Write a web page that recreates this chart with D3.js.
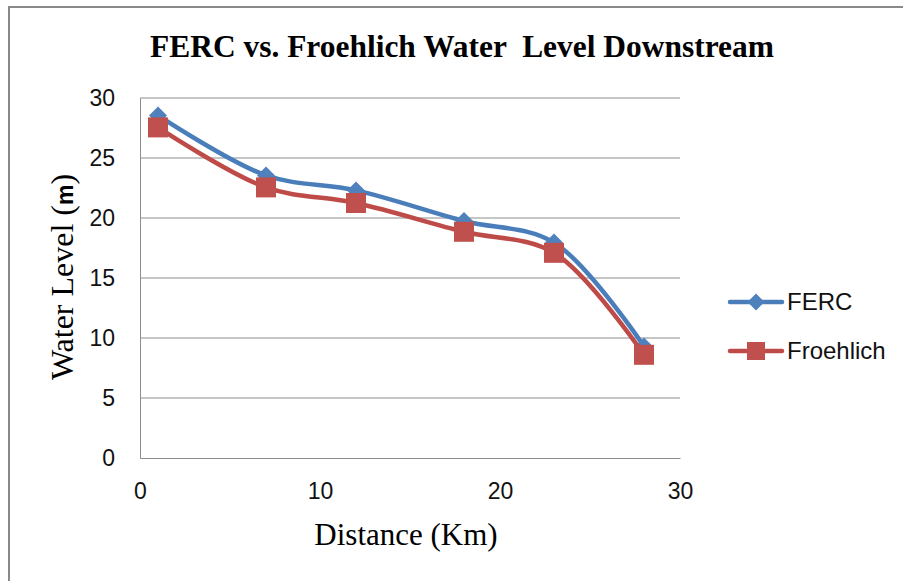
<!DOCTYPE html>
<html>
<head>
<meta charset="utf-8">
<script src="https://cdn.jsdelivr.net/npm/d3@7"></script>
<style>
  body { margin: 0; background: #fff; }
  svg { display: block; }
</style>
</head>
<body>
<div id="chart"></div>
<script>
// Data
const distance = [1, 7, 12, 18, 23, 28];
const ferc = [28.55, 23.55, 22.3, 19.75, 17.95, 9.3];
const froehlich = [27.55, 22.55, 21.25, 18.85, 17.1, 8.6];
const xTicks = [0, 10, 20, 30];
const yTicks = [0, 5, 10, 15, 20, 25, 30];
const seriesNames = ['FERC', 'Froehlich'];

const W = 903, H = 581;
const plot = { left: 140, right: 680, top: 98, bottom: 458 };

const svg = d3.select('#chart').append('svg')
    .attr('width', W).attr('height', H);

// Chart frame (extends past the right and bottom edges)
svg.append('rect')
    .attr('x', 9).attr('y', 7)
    .attr('width', 1000).attr('height', 1000)
    .attr('fill', '#fff')
    .attr('stroke', '#898989').attr('stroke-width', 2);

const x = d3.scaleLinear().domain([0, 30]).range([plot.left, plot.right]);
const y = d3.scaleLinear().domain([0, 30]).range([plot.bottom, plot.top]);

// Gridlines
svg.append('g')
    .selectAll('line')
    .data(yTicks.filter(d => d > 0))
    .join('line')
    .attr('x1', plot.left).attr('x2', plot.right)
    .attr('y1', d => y(d)).attr('y2', d => y(d))
    .attr('stroke', '#8c8c8c').attr('stroke-width', 1);

// Axes
const xAxis = svg.append('g')
    .attr('transform', 'translate(0,' + plot.bottom + ')')
    .call(d3.axisBottom(x).tickValues(xTicks).tickSize(0).tickPadding(25));
const yAxis = svg.append('g')
    .attr('transform', 'translate(' + plot.left + ',0)')
    .call(d3.axisLeft(y).tickValues(yTicks).tickSize(0).tickPadding(25));

[xAxis, yAxis].forEach(a => {
    a.select('.domain').attr('stroke', '#8c8c8c').attr('stroke-width', 1);
    a.selectAll('text')
        .attr('font-family', '"Liberation Sans", Arial, sans-serif')
        .attr('font-size', 23)
        .attr('fill', '#111');
});

// Title
svg.append('text')
    .attr('x', 462).attr('y', 57)
    .attr('text-anchor', 'middle')
    .attr('font-family', '"Liberation Serif", "Times New Roman", serif')
    .attr('font-weight', 'bold')
    .attr('font-size', 31)
    .attr('textLength', 624)
    .attr('lengthAdjust', 'spacingAndGlyphs')
    .style('white-space', 'pre')
    .text('FERC vs. Froehlich Water  Level Downstream');

// Axis titles
svg.append('text')
    .attr('x', 406).attr('y', 545)
    .attr('text-anchor', 'middle')
    .attr('font-family', '"Liberation Serif", "Times New Roman", serif')
    .attr('font-size', 31)
    .text('Distance (Km)');

const yTitle = svg.append('text')
    .attr('transform', 'translate(73,277) rotate(-90)')
    .attr('text-anchor', 'middle')
    .attr('font-family', '"Liberation Serif", "Times New Roman", serif')
    .attr('font-size', 32);
yTitle.append('tspan').text('Water Level (');
yTitle.append('tspan')
    .attr('font-family', '"Liberation Sans", Arial, sans-serif')
    .attr('font-weight', 'bold')
    .attr('font-size', 23)
    .text('m');
yTitle.append('tspan').text(')');

// Series
const series = [
    { name: seriesNames[0], values: ferc, line: '#4A7EBB', fill: '#4F81BD', marker: 'diamond' },
    { name: seriesNames[1], values: froehlich, line: '#BE4B48', fill: '#C0504D', marker: 'square' }
];

const line = d3.line()
    .x((d, i) => x(distance[i]))
    .y(d => y(d))
    .curve(d3.curveCatmullRom.alpha(0.5));

function markerPath(type) {
    if (type === 'diamond') return 'M0,-9L9,0L0,9L-9,0Z';
    return 'M-10,-10H10V10H-10Z';
}

series.forEach(s => {
    const g = svg.append('g');
    g.append('path')
        .attr('d', line(s.values))
        .attr('fill', 'none')
        .attr('stroke', s.line)
        .attr('stroke-width', 4.5)
        .attr('stroke-linejoin', 'round')
        .attr('stroke-linecap', 'round');
    g.selectAll('path.m')
        .data(s.values)
        .join('path')
        .attr('class', 'm')
        .attr('transform', (d, i) => 'translate(' + x(distance[i]) + ',' + y(d) + ')')
        .attr('d', markerPath(s.marker))
        .attr('fill', s.fill);
});

// Legend
const legend = svg.append('g');
series.forEach((s, i) => {
    const ly = 302 + i * 49;
    const lg = legend.append('g').attr('transform', 'translate(0,' + ly + ')');
    lg.append('line')
        .attr('x1', 730).attr('x2', 782)
        .attr('stroke', s.line).attr('stroke-width', 4.5)
        .attr('stroke-linecap', 'round');
    lg.append('path')
        .attr('transform', 'translate(756,0)')
        .attr('d', s.marker === 'diamond' ? 'M0,-8.5L8.5,0L0,8.5L-8.5,0Z' : 'M-9,-9H9V9H-9Z')
        .attr('fill', s.fill);
    lg.append('text')
        .attr('x', 787).attr('y', 0)
        .attr('dy', '0.35em')
        .attr('font-family', '"Liberation Sans", Arial, sans-serif')
        .attr('font-size', 24)
        .attr('fill', '#111')
        .text(s.name);
});
</script>
</body>
</html>
